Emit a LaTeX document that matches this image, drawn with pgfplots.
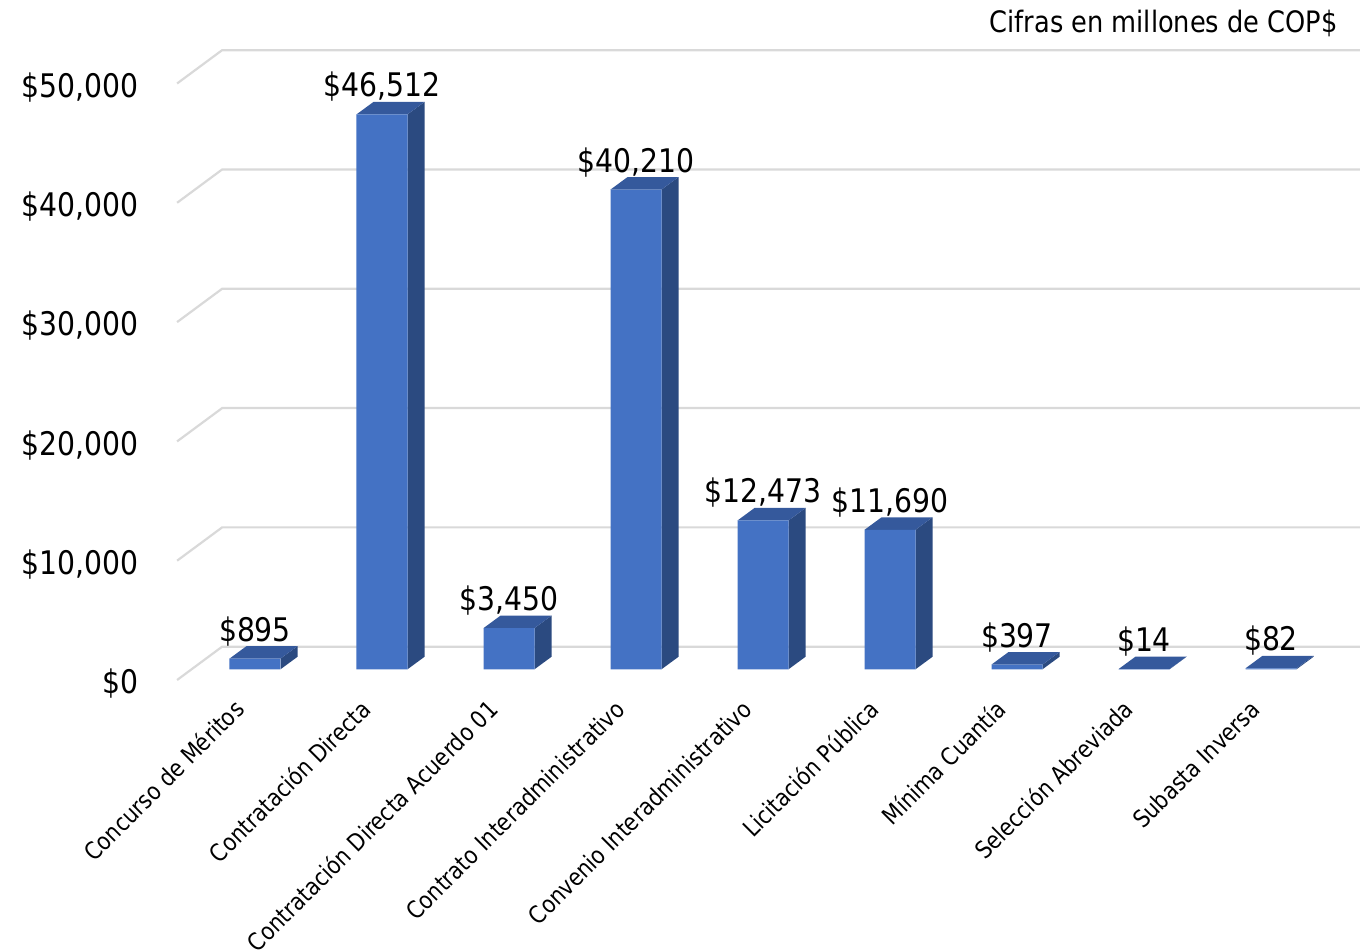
\documentclass[border=0pt]{standalone}
\usepackage{fontspec}
\setmainfont{DejaVu Sans}[FakeStretch=0.87]
\usepackage{pgfplots}
\pgfplotsset{compat=1.18}
\definecolor{barfront}{RGB}{68,114,196}
\definecolor{bartop}{RGB}{53,89,156}
\definecolor{barside}{RGB}{43,74,128}
\definecolor{gridc}{RGB}{217,217,217}
\begin{document}
\begin{tikzpicture}
\path[use as bounding box] (0,0) rectangle (680pt,476pt);
\begin{axis}[
  at={(95.75pt,141.35pt)}, anchor=south west,
  scale only axis, width=571.5pt, height=298.25pt,
  xmin=-0.5, xmax=8.5, ymin=0, ymax=50000,
  clip=false,
  axis line style={draw=none},
  tick style={draw=none}, major tick length=0pt,
  xtick={0,1,2,3,4,5,6,7,8},
  xticklabels={Concurso de Méritos, Contratación Directa, Contratación Directa Acuerdo 01, Contrato Interadministrativo, Convenio Interadministrativo, Licitación Pública, Mínima Cuantía, Selección Abreviada, Subasta Inversa},
  xticklabel style={font=\fontsize{12}{14}\selectfont, inner sep=0pt, xshift=-4.5pt, yshift=-20.85pt, rotate=45, anchor=base east},
  ytick={0,10000,20000,30000,40000,50000},
  scaled y ticks=false,
  yticklabel={\$\pgfmathprintnumber{\tick}},
  yticklabel style={font=\fontsize{16.25}{18}\selectfont, inner sep=0pt, xshift=-26.5pt, yshift=-12.25pt, anchor=base east},
  /pgf/number format/fixed,
  /pgf/number format/precision=0,
  /pgf/number format/1000 sep={,},
  /pgf/number format/assume math mode=true,
]
% back wall gridlines with left diagonals
\addplot[gridc, line width=1.1pt, forget plot] coordinates {(-0.6134,-897) (-0.259,1894) (8.741,1894)};
\addplot[gridc, line width=1.1pt, forget plot] coordinates {(-0.6134,9103) (-0.259,11894) (8.741,11894)};
\addplot[gridc, line width=1.1pt, forget plot] coordinates {(-0.6134,19103) (-0.259,21894) (8.741,21894)};
\addplot[gridc, line width=1.1pt, forget plot] coordinates {(-0.6134,29103) (-0.259,31894) (8.741,31894)};
\addplot[gridc, line width=1.1pt, forget plot] coordinates {(-0.6134,39103) (-0.259,41894) (8.741,41894)};
\addplot[gridc, line width=1.1pt, forget plot] coordinates {(-0.6134,49103) (-0.259,51894) (8.741,51894)};
% side faces
\addplot[fill=barside, draw=none, forget plot] coordinates {(0.2008,0) (0.2008,895) (0.3347,1943) (0.3347,1048)};
\addplot[fill=barside, draw=none, forget plot] coordinates {(1.2008,0) (1.2008,46512) (1.3347,47560) (1.3347,1048)};
\addplot[fill=barside, draw=none, forget plot] coordinates {(2.2008,0) (2.2008,3450) (2.3347,4498) (2.3347,1048)};
\addplot[fill=barside, draw=none, forget plot] coordinates {(3.2008,0) (3.2008,40210) (3.3347,41258) (3.3347,1048)};
\addplot[fill=barside, draw=none, forget plot] coordinates {(4.2008,0) (4.2008,12473) (4.3347,13521) (4.3347,1048)};
\addplot[fill=barside, draw=none, forget plot] coordinates {(5.2008,0) (5.2008,11690) (5.3347,12738) (5.3347,1048)};
\addplot[fill=barside, draw=none, forget plot] coordinates {(6.2008,0) (6.2008,397) (6.3347,1445) (6.3347,1048)};
\addplot[fill=barside, draw=none, forget plot] coordinates {(7.2008,0) (7.2008,14) (7.3347,1062) (7.3347,1048)};
\addplot[fill=barside, draw=none, forget plot] coordinates {(8.2008,0) (8.2008,82) (8.3347,1130) (8.3347,1048)};
% top faces
\addplot[fill=bartop, draw=none, forget plot] coordinates {(-0.2008,895) (0.2008,895) (0.3347,1943) (-0.0669,1943)};
\addplot[fill=bartop, draw=none, forget plot] coordinates {(0.7992,46512) (1.2008,46512) (1.3347,47560) (0.9331,47560)};
\addplot[fill=bartop, draw=none, forget plot] coordinates {(1.7992,3450) (2.2008,3450) (2.3347,4498) (1.9331,4498)};
\addplot[fill=bartop, draw=none, forget plot] coordinates {(2.7992,40210) (3.2008,40210) (3.3347,41258) (2.9331,41258)};
\addplot[fill=bartop, draw=none, forget plot] coordinates {(3.7992,12473) (4.2008,12473) (4.3347,13521) (3.9331,13521)};
\addplot[fill=bartop, draw=none, forget plot] coordinates {(4.7992,11690) (5.2008,11690) (5.3347,12738) (4.9331,12738)};
\addplot[fill=bartop, draw=none, forget plot] coordinates {(5.7992,397) (6.2008,397) (6.3347,1445) (5.9331,1445)};
\addplot[fill=bartop, draw=none, forget plot] coordinates {(6.7992,14) (7.2008,14) (7.3347,1062) (6.9331,1062)};
\addplot[fill=bartop, draw=none, forget plot] coordinates {(7.7992,82) (8.2008,82) (8.3347,1130) (7.9331,1130)};
% front faces with value labels
\addplot[ybar, bar width=25.5pt, bar shift=0pt, fill=barfront, draw=none,
  nodes near coords={\$\pgfmathprintnumber{\pgfplotspointmeta}},
  every node near coord/.append style={font=\fontsize{16.25}{18}\selectfont, anchor=base, yshift=8.75pt, inner sep=0pt, text=black}]
  coordinates {(0,895) (1,46512) (2,3450) (3,40210) (4,12473) (5,11690) (6,397) (7,14) (8,82)};
\end{axis}
\node[anchor=base east, inner sep=0pt, font=\fontsize{14.75}{16}\selectfont] at (669pt,459.5pt) {Cifras en millones de COP\$};
\end{tikzpicture}
\end{document}
